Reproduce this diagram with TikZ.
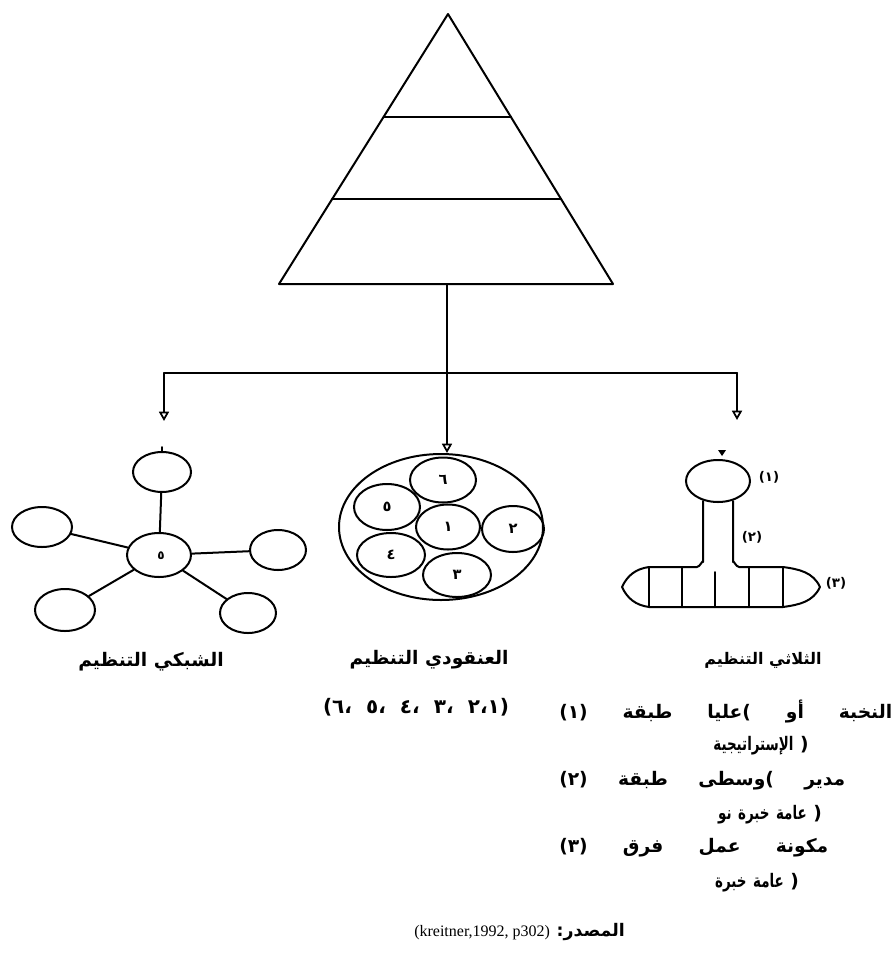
\documentclass[tikz,border=0pt]{standalone}
\usepackage{fontspec}
\setmainfont{DejaVu Sans}
\newfontfamily\arf[Script=Arabic]{DejaVu Sans}
\newfontfamily\arfc[Script=Arabic,FakeStretch=0.72]{DejaVu Sans}
\newfontfamily\latf{Liberation Serif}
\usetikzlibrary{shapes.geometric,arrows.meta}
\newlength\pxu
\setlength\pxu{0.75pt}
% every word in its own box, so that the words stand left to right as printed
\newcommand\AR[1]{\mbox{\arf #1}}
\newcommand\ARC[1]{\mbox{\arfc #1}}
\newcommand\LT[1]{\mbox{#1}}
\begin{document}
\begin{tikzpicture}[x=0.75pt,y=-0.75pt,
  ln/.style={line width=1.5pt, line join=round, line cap=round},
  arr/.style={ln,-{Triangle[open,length=7pt,width=7.5pt,line width=1.3pt]}},
  ell/.style={draw, ellipse, line width=1.5pt, inner sep=0pt},
  txt/.style={font=\bfseries\fontsize{14}{16}\selectfont, inner sep=0pt},
  num/.style={font=\bfseries\fontsize{11}{13}\selectfont, inner sep=0pt},
  lab/.style={font=\bfseries\fontsize{10}{12}\selectfont, inner sep=0pt}]
\useasboundingbox (0,0) rectangle (895,961);

% ---------- pyramid ----------
\coordinate (apex) at (448,14);
\coordinate (bl) at (279,284);
\coordinate (br) at (613,284);
\coordinate (pb) at (447,284);
\draw[ln] (apex) -- (br) -- (bl) -- cycle;
\draw[ln] (383.5,117) -- (511,117);
\draw[ln] (332,199) -- (561,199);

% ---------- connectors ----------
\coordinate (jn) at (447,373);
\coordinate (jl) at (164,373);
\coordinate (jr) at (737,373);
\coordinate (tl) at (164,421);
\coordinate (tr) at (737,420);

% ---------- network organisation ----------
\node[ell, minimum width=64\pxu, minimum height=44\pxu] (nc) at (159,555) {};
\node[num, font=\bfseries\fontsize{9}{11}\selectfont] at (161,556) {\AR{٥}};
\node[ell, minimum width=58\pxu, minimum height=40\pxu] (nt) at (162,472) {};
\node[ell, minimum width=60\pxu, minimum height=40\pxu] (nl) at (42,527) {};
\node[ell, minimum width=56\pxu, minimum height=40\pxu] (nr) at (278,550) {};
\node[ell, minimum width=60\pxu, minimum height=42\pxu] (nbl) at (65,610) {};
\node[ell, minimum width=56\pxu, minimum height=40\pxu] (nbr) at (248,613) {};
\draw[ln] (nc) -- (nt);
\draw[ln] (nc) -- (nl);
\draw[ln] (nc) -- (nr);
\draw[ln] (nc) -- (nbl);
\draw[ln] (nc) -- (nbr);
\draw[ln] (nt.north) -- ++(0,-4);

% ---------- cluster organisation ----------
\node[ell, minimum width=204\pxu, minimum height=146\pxu] (cl) at (441,527) {};
\node[ell, minimum width=66\pxu, minimum height=45\pxu] (c6) at (443,480) {};
\node[ell, minimum width=66\pxu, minimum height=46\pxu] (c5) at (387,507) {};
\node[ell, minimum width=64\pxu, minimum height=45\pxu] (c1) at (448,527) {};
\node[ell, minimum width=62\pxu, minimum height=46\pxu] (c2) at (513,529) {};
\node[ell, minimum width=68\pxu, minimum height=44\pxu] (c4) at (391,555) {};
\node[ell, minimum width=68\pxu, minimum height=44\pxu] (c3) at (457,575) {};
\node[num] at (c6) {\AR{٦}};
\node[num] at (c5) {\AR{٥}};
\node[num] at (c1) {\AR{١}};
\node[num] at (c2) {\AR{٢}};
\node[num] at (c4) {\AR{٤}};
\node[num] at (c3) {\AR{٣}};

% ---------- three-tier organisation ----------
\node[ell, minimum width=64\pxu, minimum height=42\pxu] (tt) at (718,481) {};
\fill (718,450) -- (726,450) -- (722,456) -- cycle;
\draw[ln] (703,501) -- (703,562) to[out=90,in=0] (697,567) -- (649,567)
  to[out=188,in=65] (622,587) to[out=-65,in=172] (649,607) -- (783,607)
  to[out=8,in=-115] (820,587) to[out=115,in=-8] (783,567) -- (739,567)
  to[out=180,in=90] (733,562) -- (733,501);
\foreach \xx/\yy in {649/567,682/567,715/572,749/567,783/567}
  \draw[ln] (\xx,\yy) -- (\xx,607);
\node[lab] (t1) at (769,477) {\LT{(١)}};
\node[lab] (t2) at (752,537) {\LT{(٢)}};
\node[lab] (t3) at (836,583) {\LT{(٣)}};

% ---------- arrows ----------
\draw[ln] (pb) -- (jn);
\draw[ln] (jl) -- (jr);
\draw[arr] (jn) -- (jn |- cl.north);
\draw[arr] (jl) -- (tl);
\draw[arr] (jr) -- (tr);

% ---------- labels ----------
\node[txt] (lb1) at (151,662) {\AR{التنظيم} \AR{الشبكي}};
\node[txt] (lb2) at (429,660) {\AR{التنظيم} \AR{العنقودي}};
\node[txt, font=\bfseries\fontsize{15}{17}\selectfont] (lb2n) at (416,707)
  {\makebox[186\pxu][s]{\LT{(٦،} \LT{٥،} \LT{٤،} \LT{٣،} \LT{٢،١)}}};
\node[txt, font=\bfseries\fontsize{12}{14}\selectfont] (lb3) at (763,660) {\AR{التنظيم} \AR{الثلاثي}};

\node[txt, anchor=west] (r1) at (559,711)
  {\makebox[333\pxu][s]{\LT{(١)} \AR{طبقة} \AR{عليا}\LT{(} \AR{أو} \AR{النخبة}}};
\node[txt] (r2) at (761,746) {\ARC{الإستراتيجية} \LT{)}};
\node[txt, anchor=west] (r3) at (559,781)
  {\makebox[286\pxu][s]{\LT{(٢)} \AR{طبقة} \AR{وسطى}\LT{(} \AR{مدير}}};
\node[txt] (r4) at (770,815) {\ARC{نو} \ARC{خبرة} \ARC{عامة} \LT{)}};
\node[txt, anchor=west] (r5) at (559,848)
  {\makebox[269\pxu][s]{\LT{(٣)} \AR{فرق} \AR{عمل} \AR{مكونة}}};
\node[txt] (r6) at (757,883) {\ARC{خبرة} \ARC{عامة} \LT{)}};

\node[txt, anchor=west, font=\bfseries\fontsize{13}{15}\selectfont] (src) at (414,932)
  {\LT{\latf\mdseries\fontsize{12}{14}\selectfont (kreitner,1992, p302)}\hspace{5pt}\LT{:}\AR{المصدر}};
\end{tikzpicture}
\end{document}
